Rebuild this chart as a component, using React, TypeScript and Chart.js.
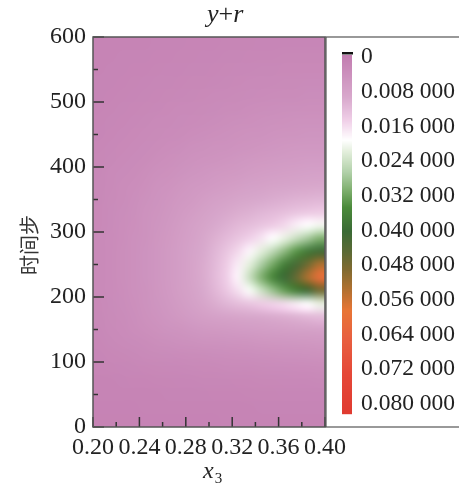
import React, { useEffect, useRef } from "react";
import { Chart, registerables } from "chart.js";

Chart.register(...registerables);

// x3 cell edges (0.20 .. 0.40, 20 cells) and time-step cell edges (0 .. 600, 30 cells)
const xEdges = [0.20, 0.21, 0.22, 0.23, 0.24, 0.25, 0.26, 0.27, 0.28, 0.29, 0.30, 0.31, 0.32, 0.33, 0.34, 0.35, 0.36, 0.37, 0.38, 0.39, 0.40];
const yEdges = [0, 20, 40, 60, 80, 100, 120, 140, 160, 180, 200, 220, 240, 260, 280, 300, 320, 340, 360, 380, 400, 420, 440, 460, 480, 500, 520, 540, 560, 580, 600];

const xTicks = [0.20, 0.24, 0.28, 0.32, 0.36, 0.40];
const yTicks = [0, 100, 200, 300, 400, 500, 600];

// y+r values (×10⁻³), one row per time-step cell from bottom (0–20) to top (580–600),
// columns are x3 cells 0.20–0.21 … 0.39–0.40
const valueGrid: number[][] = [
  [1.5, 1.5, 1.5, 1.5, 1.6, 1.6, 1.6, 1.6, 1.6, 1.6, 1.6, 1.7, 1.7, 1.7, 1.7, 1.7, 1.7, 1.7, 1.7, 1.7],
  [1.6, 1.6, 1.6, 1.6, 1.7, 1.7, 1.7, 1.7, 1.7, 1.8, 1.8, 1.8, 1.8, 1.8, 1.9, 1.9, 1.9, 1.9, 1.9, 1.9],
  [1.7, 1.7, 1.7, 1.8, 1.8, 1.8, 1.9, 1.9, 1.9, 1.9, 2.0, 2.0, 2.0, 2.1, 2.1, 2.1, 2.2, 2.2, 2.2, 2.2],
  [1.8, 1.8, 1.9, 2.0, 2.0, 2.1, 2.1, 2.2, 2.2, 2.3, 2.3, 2.3, 2.4, 2.4, 2.5, 2.5, 2.6, 2.6, 2.6, 2.7],
  [2.0, 2.1, 2.2, 2.3, 2.4, 2.5, 2.6, 2.6, 2.7, 2.8, 2.8, 2.9, 3.0, 3.0, 3.1, 3.2, 3.2, 3.3, 3.3, 3.4],
  [2.2, 2.4, 2.5, 2.7, 2.9, 3.1, 3.2, 3.3, 3.4, 3.5, 3.6, 3.7, 3.8, 3.9, 4.0, 4.1, 4.2, 4.3, 4.4, 4.5],
  [2.4, 2.7, 2.9, 3.2, 3.5, 3.8, 4.0, 4.2, 4.4, 4.6, 4.7, 4.9, 5.0, 5.2, 5.4, 5.5, 5.6, 5.7, 5.8, 6.0],
  [2.6, 3.0, 3.3, 3.7, 4.1, 4.5, 4.9, 5.2, 5.6, 5.9, 6.2, 6.4, 6.7, 6.9, 7.1, 7.3, 7.5, 7.6, 7.8, 8.0],
  [2.7, 3.1, 3.5, 3.9, 4.5, 5.0, 5.6, 6.2, 6.9, 7.5, 8.0, 8.4, 8.8, 9.1, 9.4, 9.8, 10.2, 10.8, 11.5, 12],
  [2.8, 3.2, 3.6, 4.1, 4.7, 5.3, 6.0, 6.8, 7.7, 8.8, 10, 11.2, 12.3, 13.2, 14.2, 15, 16, 17.5, 19, 21],
  [2.9, 3.3, 3.7, 4.2, 4.8, 5.5, 6.3, 7.2, 8.2, 9.5, 11.3, 13.5, 16.2, 19.5, 23.5, 28, 32, 36, 40, 46],
  [2.9, 3.3, 3.8, 4.3, 4.9, 5.6, 6.4, 7.3, 8.4, 9.8, 11.8, 14.5, 18, 24, 30, 35, 39.5, 45, 52, 59],
  [2.9, 3.3, 3.8, 4.3, 4.9, 5.6, 6.4, 7.3, 8.4, 9.8, 11.7, 14.2, 17.3, 21.5, 26.5, 31, 36, 41, 46, 52],
  [2.9, 3.3, 3.8, 4.3, 4.9, 5.6, 6.4, 7.3, 8.3, 9.5, 11.2, 13.2, 15.5, 18.2, 21.5, 25, 29, 33, 37, 40],
  [2.9, 3.3, 3.7, 4.2, 4.8, 5.5, 6.2, 7.1, 8.0, 9.1, 10.4, 11.8, 13.2, 14.8, 16.5, 19, 21, 24, 27, 30],
  [2.8, 3.2, 3.7, 4.1, 4.7, 5.3, 6.0, 6.8, 7.6, 8.5, 9.5, 10.5, 11.5, 12.3, 13.2, 14.2, 15.5, 17.5, 19, 20],
  [2.8, 3.2, 3.6, 4.0, 4.6, 5.1, 5.7, 6.4, 7.1, 7.8, 8.6, 9.3, 10, 10.6, 11.2, 11.8, 12.5, 13.2, 13.8, 14.2],
  [2.7, 3.1, 3.5, 3.9, 4.4, 4.9, 5.4, 6.0, 6.5, 7.1, 7.7, 8.2, 8.7, 9.1, 9.5, 9.9, 10.3, 10.7, 11, 11.2],
  [2.7, 3.0, 3.4, 3.7, 4.1, 4.6, 5.0, 5.5, 5.9, 6.3, 6.7, 7.1, 7.5, 7.9, 8.2, 8.5, 8.7, 9.0, 9.2, 9.3],
  [2.6, 2.9, 3.2, 3.5, 3.8, 4.2, 4.5, 4.9, 5.3, 5.6, 5.9, 6.2, 6.5, 6.8, 7.1, 7.3, 7.5, 7.7, 7.9, 8.0],
  [2.5, 2.7, 3.0, 3.2, 3.5, 3.8, 4.1, 4.4, 4.7, 5.0, 5.2, 5.4, 5.7, 6.0, 6.2, 6.4, 6.6, 6.7, 6.9, 6.9],
  [2.4, 2.6, 2.8, 3.0, 3.2, 3.4, 3.7, 3.9, 4.2, 4.4, 4.6, 4.8, 5.0, 5.2, 5.4, 5.6, 5.8, 5.9, 6.0, 6.0],
  [2.2, 2.4, 2.6, 2.8, 2.9, 3.1, 3.3, 3.5, 3.7, 3.9, 4.1, 4.3, 4.5, 4.6, 4.8, 5.0, 5.1, 5.2, 5.3, 5.3],
  [2.1, 2.3, 2.4, 2.6, 2.7, 2.9, 3.0, 3.2, 3.3, 3.5, 3.6, 3.8, 4.0, 4.1, 4.3, 4.4, 4.5, 4.6, 4.7, 4.7],
  [2.0, 2.1, 2.3, 2.4, 2.5, 2.6, 2.8, 2.9, 3.0, 3.1, 3.2, 3.4, 3.5, 3.7, 3.8, 3.9, 4.0, 4.0, 4.1, 4.1],
  [1.9, 2.0, 2.1, 2.2, 2.3, 2.4, 2.5, 2.6, 2.7, 2.8, 2.9, 3.0, 3.1, 3.2, 3.3, 3.4, 3.5, 3.5, 3.6, 3.6],
  [1.9, 1.9, 2.0, 2.1, 2.2, 2.3, 2.3, 2.4, 2.5, 2.5, 2.6, 2.7, 2.8, 2.9, 3.0, 3.0, 3.1, 3.1, 3.2, 3.2],
  [1.8, 1.9, 1.9, 2.0, 2.0, 2.1, 2.2, 2.2, 2.3, 2.3, 2.4, 2.5, 2.6, 2.6, 2.7, 2.7, 2.8, 2.8, 2.8, 2.8],
  [1.7, 1.8, 1.9, 1.9, 1.9, 2.0, 2.0, 2.1, 2.1, 2.2, 2.2, 2.3, 2.3, 2.4, 2.4, 2.4, 2.5, 2.5, 2.5, 2.5],
  [1.7, 1.7, 1.8, 1.8, 1.8, 1.9, 1.9, 1.9, 2.0, 2.0, 2.0, 2.1, 2.1, 2.1, 2.2, 2.2, 2.2, 2.2, 2.2, 2.2],
];

// colour scale (value ×10⁻³ → colour)
const colorStopValues = [0, 9.4, 14.7, 19, 21.6, 26.2, 30, 34, 39.3, 44, 47.8, 51.5, 57, 63, 70.8, 80];
const colorStopColors = ["#c27cb0", "#d8a8cc", "#f0d0e8", "#ffffff", "#e2eedb", "#b0d0a8", "#80b070", "#4a8a3a", "#3a6a35", "#5c6a35", "#806a30", "#a87030", "#e87535", "#e86040", "#e54838", "#e03a30"];
const colorbarMin = 0;
const colorbarMax = 80;
const colorbarLabels = ["0", "0.008 000", "0.016 000", "0.024 000", "0.032 000", "0.040 000", "0.048 000", "0.056 000", "0.064 000", "0.072 000", "0.080 000"];

const titleParts = ["y", "+", "r"];
const xTitle = "x";
const xTitleSub = "3";
const yTitle = "时间步";

const SERIF = '"Liberation Serif", "Times New Roman", serif';
const TEXT = "#222";

function hexToRgb(h: string): number[] {
  const n = parseInt(h.slice(1), 16);
  return [(n >> 16) & 255, (n >> 8) & 255, n & 255];
}
const stopRgb = colorStopColors.map(hexToRgb);

function colorFor(v: number): number[] {
  if (v <= colorStopValues[0]) return stopRgb[0];
  const last = colorStopValues.length - 1;
  if (v >= colorStopValues[last]) return stopRgb[last];
  for (let i = 0; i < last; i++) {
    const a = colorStopValues[i];
    const b = colorStopValues[i + 1];
    if (v >= a && v <= b) {
      const t = (v - a) / (b - a);
      const c0 = stopRgb[i];
      const c1 = stopRgb[i + 1];
      return [0, 1, 2].map((k) => Math.round(c0[k] + (c1[k] - c0[k]) * t));
    }
  }
  return stopRgb[last];
}

const heatmapPlugin = {
  id: "heatmap",
  beforeDatasetsDraw(chart: any) {
    const { ctx, chartArea, scales } = chart;
    const xs = scales.x;
    const ys = scales.y;
    const nCols = xEdges.length - 1;
    const nRows = yEdges.length - 1;
    const off = document.createElement("canvas");
    off.width = nCols;
    off.height = nRows;
    const octx = off.getContext("2d")!;
    const img = octx.createImageData(nCols, nRows);
    for (let r = 0; r < nRows; r++) {
      for (let c = 0; c < nCols; c++) {
        const col = colorFor(valueGrid[r][c]);
        const p = ((nRows - 1 - r) * nCols + c) * 4;
        img.data[p] = col[0];
        img.data[p + 1] = col[1];
        img.data[p + 2] = col[2];
        img.data[p + 3] = 255;
      }
    }
    octx.putImageData(img, 0, 0);
    const left = xs.getPixelForValue(xEdges[0]);
    const right = xs.getPixelForValue(xEdges[nCols]);
    const top = ys.getPixelForValue(yEdges[nRows]);
    const bottom = ys.getPixelForValue(yEdges[0]);
    ctx.save();
    ctx.beginPath();
    ctx.rect(chartArea.left, chartArea.top, chartArea.right - chartArea.left, chartArea.bottom - chartArea.top);
    ctx.clip();
    ctx.imageSmoothingEnabled = true;
    (ctx as any).imageSmoothingQuality = "high";
    ctx.drawImage(off, 0, 0, nCols, nRows, left, top, right - left, bottom - top);
    ctx.restore();
  },
  afterDraw(chart: any) {
    const { ctx, chartArea, scales } = chart;
    const xs = scales.x;
    const ys = scales.y;
    const { left, right, top, bottom } = chartArea;
    ctx.save();

    // inward tick marks
    ctx.strokeStyle = "#333";
    ctx.lineWidth = 1.5;
    const xv = xTicks;
    for (let i = 0; i < xv.length; i++) {
      const px = xs.getPixelForValue(xv[i]);
      ctx.beginPath();
      ctx.moveTo(px, bottom);
      ctx.lineTo(px, bottom - 10);
      ctx.stroke();
      if (i < xv.length - 1) {
        const mx = xs.getPixelForValue((xv[i] + xv[i + 1]) / 2);
        ctx.beginPath();
        ctx.moveTo(mx, bottom);
        ctx.lineTo(mx, bottom - 5);
        ctx.stroke();
      }
    }
    const yv = yTicks;
    for (let i = 0; i < yv.length; i++) {
      const py = ys.getPixelForValue(yv[i]);
      ctx.beginPath();
      ctx.moveTo(left, py);
      ctx.lineTo(left + 11, py);
      ctx.stroke();
      if (i < yv.length - 1) {
        const my = ys.getPixelForValue((yv[i] + yv[i + 1]) / 2);
        ctx.beginPath();
        ctx.moveTo(left, my);
        ctx.lineTo(left + 5, my);
        ctx.stroke();
      }
    }

    // plot frame
    ctx.strokeStyle = "#555";
    ctx.lineWidth = 1.5;
    ctx.strokeRect(left, top, right - left, bottom - top);

    // legend box
    const boxL = right + 1;
    ctx.strokeStyle = "#555";
    ctx.lineWidth = 1.2;
    ctx.strokeRect(boxL, top, 200, bottom - top);

    // colour bar
    const barX = boxL + 16;
    const barW = 10;
    const barTop = top + 18;
    const barBottom = bottom - 13;
    const span = barBottom - barTop;
    for (let py = 0; py < span; py++) {
      const v = colorbarMin + ((py + 0.5) / span) * (colorbarMax - colorbarMin);
      const c = colorFor(v);
      ctx.fillStyle = `rgb(${c[0]},${c[1]},${c[2]})`;
      ctx.fillRect(barX, barTop + py, barW, 1.2);
    }
    ctx.fillStyle = "#111";
    ctx.fillRect(barX, barTop - 3, barW + 1, 2.5);

    ctx.fillStyle = TEXT;
    ctx.font = `23.5px ${SERIF}`;
    ctx.textAlign = "left";
    ctx.textBaseline = "middle";
    const labTop = top + 20;
    const labStep = (bottom - 23 - labTop) / (colorbarLabels.length - 1);
    colorbarLabels.forEach((lab, i) => {
      ctx.fillText(lab, barX + 19, labTop + i * labStep);
    });

    // title y+r
    ctx.textBaseline = "alphabetic";
    let tx = 207;
    const ty = 22;
    titleParts.forEach((p) => {
      ctx.font = p === "+" ? `26px ${SERIF}` : `italic 26px ${SERIF}`;
      ctx.fillText(p, tx, ty);
      tx += ctx.measureText(p).width;
    });

    // x axis title
    ctx.font = `italic 24px ${SERIF}`;
    ctx.fillText(xTitle, 203, 478);
    const xw = ctx.measureText(xTitle).width;
    ctx.font = `15px ${SERIF}`;
    ctx.fillText(xTitleSub, 203 + xw + 1, 483);

    // y axis title
    ctx.translate(29, 245);
    ctx.rotate(-Math.PI / 2);
    ctx.textAlign = "center";
    ctx.textBaseline = "middle";
    ctx.font = `20px "Noto Sans CJK SC", sans-serif`;
    ctx.fillStyle = "#333";
    ctx.fillText(yTitle, 0, 0);
    ctx.restore();
  },
};

export default function App() {
  const canvasRef = useRef<HTMLCanvasElement | null>(null);
  useEffect(() => {
    const canvas = canvasRef.current;
    if (!canvas) return;
    const tickFont = { family: SERIF, size: 24 };
    const chart = new Chart(canvas, {
      type: "scatter",
      data: { datasets: [{ data: [] }] },
      options: {
        animation: false,
        responsive: true,
        maintainAspectRatio: false,
        layout: { padding: { left: 0, right: 134, top: 37, bottom: 0 } },
        plugins: { legend: { display: false }, tooltip: { enabled: false }, title: { display: false } },
        scales: {
          x: {
            type: "linear",
            min: 0.2,
            max: 0.4,
            afterFit: (s: any) => {
              s.height = 57;
            },
            afterBuildTicks: (s: any) => {
              s.ticks = xTicks.map((v) => ({ value: v }));
            },
            grid: { display: false, drawTicks: false },
            border: { display: false },
            ticks: {
              autoSkip: false,
              maxRotation: 0,
              padding: 6,
              color: TEXT,
              font: tickFont,
              callback: (v: any) => Number(v).toFixed(2),
            },
          },
          y: {
            type: "linear",
            min: 0,
            max: 600,
            afterFit: (s: any) => {
              s.width = 93;
            },
            afterBuildTicks: (s: any) => {
              s.ticks = yTicks.map((v) => ({ value: v }));
            },
            grid: { display: false, drawTicks: false },
            border: { display: false },
            ticks: {
              autoSkip: false,
              padding: 7,
              color: TEXT,
              font: tickFont,
              callback: (v: any) => String(v),
            },
          },
        },
      } as any,
      plugins: [heatmapPlugin],
    });
    return () => chart.destroy();
  }, []);
  return (
    <div style={{ position: "fixed", left: 0, top: 0, width: 459, height: 484, background: "#fff" }}>
      <canvas ref={canvasRef} />
    </div>
  );
}
